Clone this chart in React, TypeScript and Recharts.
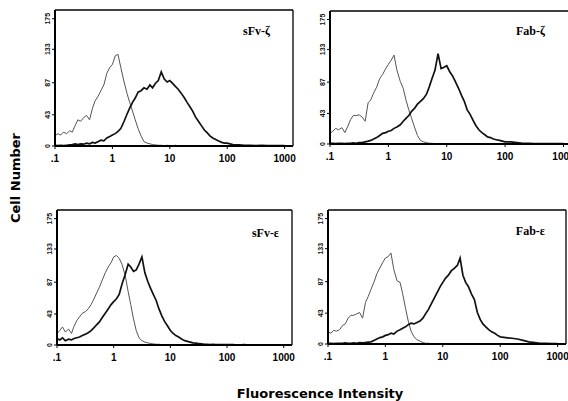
import React from 'react';
import { LineChart, Line, XAxis, YAxis, ReferenceLine } from 'recharts';

// Histogram bin centres (fluorescence intensity, log scale)
const bins = [
  0.1, 0.112, 0.125, 0.14, 0.16, 0.18, 0.2, 0.224, 0.25, 0.28, 0.315, 0.355, 0.4, 0.45, 0.5, 0.56, 0.63, 0.71, 0.8, 0.9,
  1, 1.12, 1.25, 1.4, 1.6, 1.8, 2, 2.24, 2.5, 2.8, 3.15, 3.55, 4, 4.5, 5, 5.6, 6.3, 7.1, 8, 9,
  10, 11.2, 12.5, 14, 16, 18, 20, 22.4, 25, 28, 31.5, 35.5, 40, 45, 50, 56, 63, 71, 80, 90,
  100, 125, 160, 200, 250, 315, 400, 500, 630, 800, 1000,
];

// sFv-zeta
const sFvZetaControl = [
  14, 17, 15, 19, 17, 21, 19, 28, 36, 34, 39, 42, 36, 52, 62, 68, 76, 84, 100, 108,
  112, 124, 126, 108, 88, 72, 60, 48, 36, 24, 14, 6, 4, 3, 2, 1.5, 1, 1, 0.5, 1,
  0.5, 0.5, 1, 0.5, 0.5, 0, 0.5, 0, 0, 0.5, 0, 0, 0, 0, 0, 0, 0, 0, 0, 0,
  0, 0, 0, 0, 0, 0, 0, 0, 0, 0, 0,
];
const sFvZetaStained = [
  1, 0.5, 1, 0.5, 1, 1.5, 2, 3, 2, 3, 2.5, 4, 3, 5, 4, 6, 8, 7, 11, 13,
  15, 17, 20, 24, 34, 44, 52, 60, 66, 74, 76, 80, 78, 84, 80, 86, 90, 102, 92, 88,
  90, 86, 82, 78, 72, 66, 60, 54, 48, 40, 34, 28, 22, 18, 14, 11, 9, 7, 5, 4,
  4, 2, 1.5, 1, 1, 0.5, 1, 0.5, 0.5, 0.5, 0.5,
];

// Fab-zeta
const fabZetaControl = [
  15, 18, 22, 20, 23, 16, 24, 34, 40, 40, 41, 38, 32, 58, 62, 72, 80, 92, 98, 106,
  112, 118, 125, 104, 88, 78, 62, 48, 36, 24, 12, 5, 3, 2, 1, 1, 0.5, 0.5, 0.5, 0,
  0.5, 0, 0, 0.5, 0, 0, 0, 0, 0, 0, 0, 0, 0, 0, 0, 0, 0, 0, 0, 0,
  0, 0, 0, 0, 0, 0, 0, 0, 0, 0, 0,
];
const fabZetaStained = [
  1, 1, 0.5, 1, 1, 0.5, 1, 1, 1.5, 1, 2, 2, 3, 4, 5, 7, 9, 12, 15, 16,
  18, 19, 22, 24, 27, 32, 36, 40, 46, 50, 56, 60, 64, 70, 80, 92, 104, 127, 106, 108,
  110, 102, 96, 88, 78, 68, 60, 48, 42, 34, 26, 20, 16, 13, 10, 9, 7, 6, 5, 4,
  3, 3, 2, 1, 1, 0.5, 0.5, 0.5, 0.5, 0.5, 0.5,
];

// sFv-epsilon
const sFvEpsControl = [
  16, 20, 25, 18, 22, 16, 26, 34, 39, 44, 46, 50, 56, 64, 72, 80, 90, 100, 108, 114,
  122, 124, 120, 112, 96, 74, 56, 36, 20, 10, 6, 4, 3, 2, 1.5, 1, 1, 0.5, 0.5, 0.5,
  0.5, 0, 0.5, 0, 0, 0, 0, 0, 0, 0, 0, 0, 0, 0, 0, 0, 0, 0, 0, 0,
  0, 0, 0, 0, 0, 0, 0, 0, 0, 0, 0,
];
const sFvEpsStained = [
  9, 7, 10, 6, 8, 7, 9, 10, 11, 13, 15, 17, 20, 24, 28, 32, 38, 44, 50, 56,
  60, 64, 70, 84, 98, 112, 108, 102, 104, 112, 122, 100, 88, 78, 70, 62, 50, 40, 32, 26,
  20, 16, 13, 11, 8, 6, 5, 4, 3, 2.5, 2, 1.5, 1, 1, 0.5, 1, 0.5, 0.5, 0.5, 0.5,
  0.5, 0.5, 0, 0.5, 0, 0, 0, 0, 0, 0, 0,
];

// Fab-epsilon
const fabEpsControl = [
  17, 15, 19, 18, 20, 26, 28, 36, 40, 40, 42, 44, 36, 58, 66, 76, 86, 98, 106, 114,
  120, 122, 127, 104, 88, 86, 70, 50, 32, 18, 10, 6, 4, 2, 1, 1, 0.5, 0.5, 0, 0.5,
  0, 0, 0, 0, 0, 0, 0, 0, 0, 0, 0, 0, 0, 0, 0, 0, 0, 0, 0, 0,
  0, 0, 0, 0, 0, 0, 0, 0, 0, 0, 0,
];
const fabEpsStained = [
  1, 1, 0.5, 1, 1, 1, 1.5, 1, 1, 1.5, 1, 2, 1.5, 2, 2.5, 3, 5, 7, 9, 10,
  12, 13, 15, 14, 18, 20, 22, 24, 27, 29, 28, 30, 32, 36, 42, 48, 56, 64, 72, 80,
  86, 92, 96, 102, 106, 110, 120, 96, 86, 80, 70, 62, 44, 34, 28, 24, 20, 17, 15, 12,
  10, 9, 8, 7, 5, 3, 2, 1, 1, 0.5, 0.5,
];

const xTicks = [0.1, 1, 10, 100, 1000];
const xTickLabels = ['.1', '1', '10', '100', '1000'];
const yTicks = [0, 43, 87, 133, 175];
const panelTitles = ['sFv-ζ', 'Fab-ζ', 'sFv-ε', 'Fab-ε'];
const xAxisTitle = 'Fluorescence Intensity';
const yAxisTitle = 'Cell Number';

const X_MAX = 1400;
const Y_MAX = 187;

const layouts = [
  { left: 55, top: 10, w: 238, h: 136, titleX: 270, titleY: 35 },
  { left: 330, top: 11, w: 242, h: 133, titleX: 545, titleY: 35 },
  { left: 57, top: 210, w: 235, h: 135, titleX: 279, titleY: 237 },
  { left: 328, top: 210, w: 238, h: 134, titleX: 545, titleY: 235 },
];

const seriesPairs = [
  [sFvZetaControl, sFvZetaStained],
  [fabZetaControl, fabZetaStained],
  [sFvEpsControl, sFvEpsStained],
  [fabEpsControl, fabEpsStained],
];

const fmtX = (v: number) => {
  const i = xTicks.indexOf(v);
  return i >= 0 ? xTickLabels[i] : '';
};

const YTick = (props: any) => {
  const { x, y, payload } = props;
  return (
    <text
      x={x}
      y={y}
      transform={`rotate(-90 ${x} ${y})`}
      textAnchor="middle"
      fontSize={7}
      fontWeight={700}
      fontFamily="'Liberation Sans', Arial, sans-serif"
      fill="#111"
    >
      {payload.value}
    </text>
  );
};

function Panel({ thin, thick, layout }: { thin: number[]; thick: number[]; layout: any }) {
  const data = bins.map((x, i) => ({ x, thin: thin[i], thick: thick[i] }));
  const padL = 30;
  const padT = 6;
  const padR = 22;
  const padB = 24;
  return (
    <div style={{ position: 'absolute', left: layout.left - padL, top: layout.top - padT }}>
      <LineChart
        width={layout.w + padL + padR}
        height={layout.h + padT + padB}
        data={data}
        margin={{ top: padT, right: padR, bottom: 0, left: 8 }}
      >
        <XAxis
          dataKey="x"
          type="number"
          scale="log"
          domain={[0.1, X_MAX]}
          allowDataOverflow
          ticks={xTicks}
          interval={0}
          tickFormatter={fmtX}
          height={padB}
          tickSize={3}
          tickMargin={6}
          axisLine={{ stroke: '#000', strokeWidth: 2 }}
          tickLine={{ stroke: '#000' }}
          tick={{ fontSize: 10, fontWeight: 700, fill: '#000', fontFamily: "'Liberation Sans', Arial, sans-serif" }}
        />
        <YAxis
          type="number"
          domain={[0, Y_MAX]}
          allowDataOverflow
          ticks={yTicks}
          interval={0}
          width={22}
          tickSize={3}
          tickMargin={2}
          tick={<YTick />}
          axisLine={{ stroke: '#000', strokeWidth: 2 }}
          tickLine={{ stroke: '#000' }}
        />
        <ReferenceLine y={Y_MAX} stroke="#000" strokeWidth={1.3} />
        <ReferenceLine x={X_MAX} stroke="#000" strokeWidth={1.3} />
        <Line
          dataKey="thin"
          type="linear"
          stroke="#555"
          strokeWidth={1}
          dot={false}
          isAnimationActive={false}
        />
        <Line
          dataKey="thick"
          type="linear"
          stroke="#111"
          strokeWidth={1.7}
          dot={false}
          isAnimationActive={false}
        />
      </LineChart>
    </div>
  );
}

export default function App() {
  return (
    <div
      style={{
        position: 'absolute',
        left: 0,
        top: 0,
        width: 568,
        height: 401,
        overflow: 'hidden',
        background: '#fff',
      }}
    >
      {layouts.map((l, i) => (
        <Panel key={i} thin={seriesPairs[i][0]} thick={seriesPairs[i][1]} layout={l} />
      ))}
      <svg
        width={568}
        height={401}
        style={{ position: 'absolute', left: 0, top: 0, pointerEvents: 'none' }}
      >
        {layouts.map((l, i) => (
          <text
            key={i}
            x={l.titleX}
            y={l.titleY}
            textAnchor="end"
            fontSize={12}
            fontWeight={700}
            fontFamily="'Liberation Serif', 'Times New Roman', serif"
            fill="#000"
          >
            {panelTitles[i]}
          </text>
        ))}
        <text
          x={20}
          y={178}
          transform="rotate(-90 20 178)"
          textAnchor="middle"
          fontSize={13}
          fontWeight={700}
          fontFamily="'DejaVu Sans', sans-serif"
          fill="#000"
        >
          {yAxisTitle}
        </text>
        <text
          x={320}
          y={398}
          textAnchor="middle"
          fontSize={13}
          fontWeight={700}
          fontFamily="'DejaVu Sans', sans-serif"
          fill="#000"
        >
          {xAxisTitle}
        </text>
      </svg>
    </div>
  );
}
